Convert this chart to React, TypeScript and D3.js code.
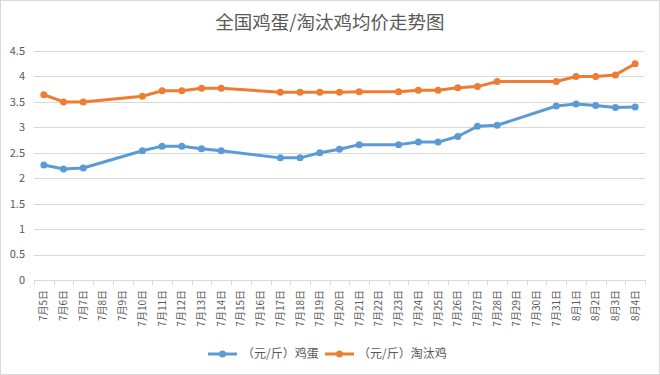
import React from "react";
import * as d3 from "d3";

const dates: string[] = [
  "7月5日","7月6日","7月7日","7月8日","7月9日","7月10日","7月11日","7月12日","7月13日","7月14日",
  "7月15日","7月16日","7月17日","7月18日","7月19日","7月20日","7月21日","7月22日","7月23日","7月24日",
  "7月25日","7月26日","7月27日","7月28日","7月29日","7月30日","7月31日","8月1日","8月2日","8月3日","8月4日",
];
const eggPrices: (number | null)[] = [
  2.26, 2.18, 2.20, null, null, 2.54, 2.63, 2.63, 2.58, 2.54,
  null, null, 2.40, 2.40, 2.50, 2.57, 2.66, null, 2.66, 2.71,
  2.71, 2.82, 3.02, 3.04, null, null, 3.42, 3.46, 3.43, 3.39, 3.40,
];
const henPrices: (number | null)[] = [
  3.64, 3.50, 3.50, null, null, 3.61, 3.72, 3.72, 3.77, 3.77,
  null, null, 3.69, 3.69, 3.69, 3.69, 3.70, null, 3.70, 3.73,
  3.73, 3.78, 3.80, 3.90, null, null, 3.90, 4.00, 4.00, 4.03, 4.25,
];
const yTicks: number[] = [0, 0.5, 1, 1.5, 2, 2.5, 3, 3.5, 4, 4.5];
const seriesNames: string[] = ["（元/斤）鸡蛋", "（元/斤）淘汰鸡"];
const seriesColors: string[] = ["#5B9BD5", "#ED7D31"];
const title = "全国鸡蛋/淘汰鸡均价走势图";

const W = 660;
const H = 375;
const FONT = "'Noto Sans CJK SC', 'Noto Sans', sans-serif";
const TEXT = "#595959";

export default function App() {
  const x = d3.scaleBand<string>().domain(dates).range([34, 645]).padding(0);
  const y = d3.scaleLinear().domain([0, 4.5]).range([280, 51]);
  const cx = (d: string) => (x(d) as number) + x.bandwidth() / 2;

  const series = [eggPrices, henPrices].map((vals) =>
    dates
      .map((d, i) => ({ d, v: vals[i] }))
      .filter((p) => p.v !== null) as { d: string; v: number }[]
  );
  const line = d3
    .line<{ d: string; v: number }>()
    .x((p) => cx(p.d))
    .y((p) => y(p.v));

  const tickPositions = dates.map((d) => x(d) as number).concat([x.range()[1]]);

  return (
    <div style={{ position: "fixed", left: 0, top: 0 }}>
      <svg width={W} height={H} style={{ display: "block", fontFamily: FONT }}>
        <rect x={0.5} y={0.5} width={W - 1} height={H - 1} fill="#fff" stroke="#D9D9D9" />
        <text x={W / 2} y={29} textAnchor="middle" fontSize={18.5} fill={TEXT}>
          {title}
        </text>
        {yTicks.map((t) => (
          <g key={t}>
            <line
              x1={x.range()[0]}
              x2={x.range()[1]}
              y1={Math.round(y(t)) + 0.5}
              y2={Math.round(y(t)) + 0.5}
              stroke="#D9D9D9"
              strokeWidth={1}
            />
            <text x={25} y={y(t)} dy="0.35em" textAnchor="end" fontSize={11} fill={TEXT}>
              {t}
            </text>
          </g>
        ))}
        {tickPositions.map((p, i) => (
          <line
            key={i}
            x1={Math.round(p) + 0.5}
            x2={Math.round(p) + 0.5}
            y1={280}
            y2={285}
            stroke="#D9D9D9"
          />
        ))}
        {dates.map((d) => (
          <text
            key={d}
            transform={`translate(${cx(d)},${290}) rotate(-90)`}
            textAnchor="end"
            dy="0.35em"
            fontSize={10}
            fill={TEXT}
          >
            {d}
          </text>
        ))}
        {series.map((s, si) => (
          <g key={si}>
            <path
              d={line(s) || ""}
              fill="none"
              stroke={seriesColors[si]}
              strokeWidth={3}
              strokeLinejoin="round"
              strokeLinecap="round"
            />
            {s.map((p) => (
              <circle key={p.d} cx={cx(p.d)} cy={y(p.v)} r={3.5} fill={seriesColors[si]} />
            ))}
          </g>
        ))}
        {[
          { lx: 208, tx: 242 },
          { lx: 325, tx: 358 },
        ].map((l, i) => (
          <g key={i}>
            <line x1={l.lx} x2={l.lx + 29} y1={354} y2={354} stroke={seriesColors[i]} strokeWidth={3} />
            <circle cx={l.lx + 14.5} cy={354} r={3.5} fill={seriesColors[i]} />
            <text x={l.tx} y={354} dy="0.35em" fontSize={12} fill={TEXT}>
              {seriesNames[i]}
            </text>
          </g>
        ))}
      </svg>
    </div>
  );
}
